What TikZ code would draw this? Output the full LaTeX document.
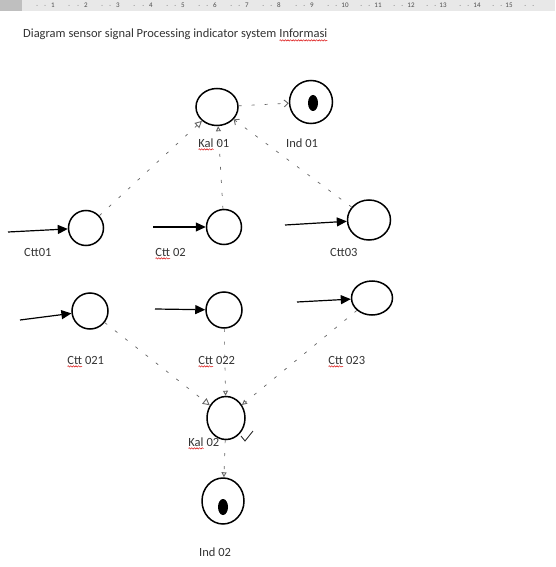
\documentclass[tikz,border=0pt]{standalone}
\usepackage{fontspec}
\setmainfont{Carlito}
\usetikzlibrary{arrows.meta,shapes.geometric,decorations.pathmorphing}
\newcommand\redwave[1]{\tikz[baseline=(w.base)]{\node[inner sep=0pt,outer sep=0pt,anchor=base] (w) {#1};\draw[red!85!black,line width=0.45pt,decorate,decoration={snake,amplitude=0.7pt,segment length=2.6pt}] ([yshift=-2.4pt]w.base west) -- ([yshift=-2.4pt]w.base east);}}
\begin{document}
\begin{tikzpicture}[x=1pt,y=-1pt,
  blob/.style={draw, line width=1.5pt, circle, inner sep=0pt},
  oval/.style={draw, line width=1.5pt, ellipse, inner sep=0pt},
  lab/.style={font=\fontsize{12.5}{14}\selectfont, text=black!80, anchor=base west, inner sep=0pt},
  feed/.style={line width=1.2pt, -{Triangle[length=10pt,width=9pt]}},
  sig/.style={dash pattern=on 3pt off 10pt, line width=0.7pt, draw=black!60},
  opentip/.style={-{Triangle[open,length=7pt,width=7pt,line width=0.9pt]}},
  smalltip/.style={-{Triangle[open,length=5pt,width=5pt,line width=0.9pt]}},
  barbtip/.style={-{Straight Barb[length=4pt,width=7pt,line width=0.9pt]}},
  rulnum/.style={font=\fontsize{7}{7}\selectfont, text=black!70, inner sep=0pt}]
\useasboundingbox (0,0) rectangle (555,567);
\fill[white] (0,0) rectangle (555,567);
% ruler
\fill[black!9] (0,0) rectangle (555,11);
\fill[black!25] (0,0) rectangle (22,11);
\foreach \n/\x in {1/53,2/86,3/118,4/151,5/183,6/215,7/247,8/279,9/312,10/345,11/378,12/411,13/443,14/477,15/509}
  \node[rulnum] (r\n) at (\x,5.5) {\n};
\foreach \x in {37,45,69,78,102,110,134,143,167,175,199,207,231,239,263,271,296,304,328,336,361,369,394,402,427,435,460,468,493,501,525,533}
  \fill[black!50] (\x,5.5) circle (0.5);
% title
\node[lab] (title) at (23,38) {Diagram sensor signal Processing indicator system \redwave{Informasi}};
% nodes
\node[oval, minimum width=42, minimum height=37] (kal1) at (217,107) {};
\node[blob, minimum size=43] (ind1) at (311,102) {};
\fill (313,103) ellipse (5 and 8);
\node[blob, minimum size=35] (ctt1) at (86,228) {};
\node[blob, minimum size=35] (ctt2) at (224,227) {};
\node[oval, minimum width=43, minimum height=40] (ctt3) at (369,220) {};
\node[blob, minimum size=36] (ctt21) at (90,311) {};
\node[blob, minimum size=36] (ctt22) at (224,310) {};
\node[oval, minimum width=41, minimum height=34] (ctt23) at (372,298) {};
\node[oval, minimum width=38, minimum height=43] (kal2) at (226,418) {};
\node[oval, minimum width=42, minimum height=46] (ind2) at (223,501) {};
\fill (223,507) ellipse (5 and 8);
% input points
\coordinate (in1) at (8,232);
\coordinate (in2) at (153,227);
\coordinate (in3) at (285,225);
\coordinate (in21) at (20,320);
\coordinate (in22) at (155,309);
\coordinate (in23) at (297,302);
\draw[feed] (in1) -- (ctt1);
\draw[feed] (in2) -- (ctt2);
\draw[feed] (in3) -- (ctt3);
\draw[feed] (in21) -- (ctt21);
\draw[feed] (in22) -- (ctt22);
\draw[feed] (in23) -- (ctt23);
% signal connectors
\draw[sig, opentip] (ctt1) -- (kal1);
\draw[sig, smalltip] (ctt2) -- (kal1);
\draw[sig, barbtip] (ctt3) -- (kal1);
\draw[sig, barbtip] (kal1) -- (ind1);
\draw[sig, opentip] (ctt21) -- (kal2);
\draw[sig, smalltip] (ctt22) -- (kal2);
\draw[sig, smalltip] (ctt23) -- (kal2);
\draw[sig, smalltip] (kal2) -- (ind2);
% labels
\node[lab] (lkal1) at (198,147) {\redwave{Kal} 01};
\node[lab] (lind1) at (286,147) {Ind 01};
\node[lab] (lc1) at (24,256) {Ctt01};
\node[lab] (lc2) at (155,256) {\redwave{Ctt} 02};
\node[lab] (lc3) at (330,256) {Ctt03};
\node[lab] (lc21) at (67,364) {\redwave{Ctt} 021};
\node[lab] (lc22) at (198,364) {\redwave{Ctt} 022};
\node[lab] (lc23) at (328,364) {\redwave{Ctt} 023};
\node[lab] (lkal2) at (188,446) {\redwave{Kal} 02};
\node[lab] (lind2) at (199,556) {Ind 02};
% stray check mark
\draw[line width=0.9pt, black!80] (241,436) -- (245,441) -- (253,431);
\end{tikzpicture}
\end{document}
